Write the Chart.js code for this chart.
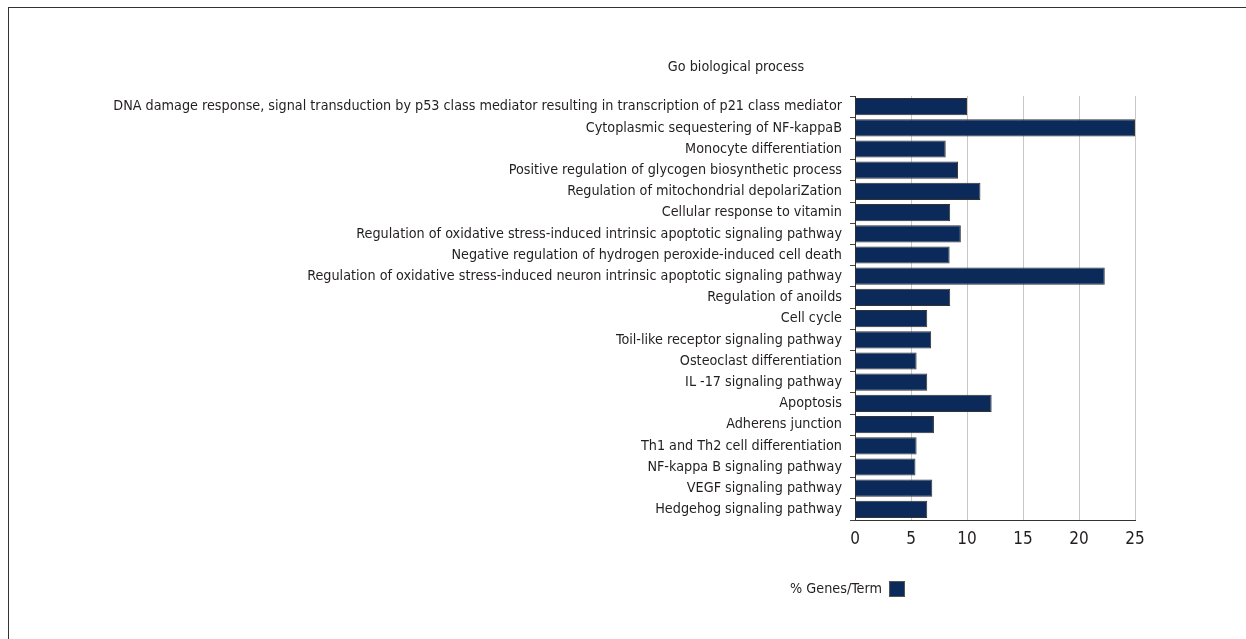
<!DOCTYPE html>
<html>
<head>
<meta charset="utf-8">
<script src="https://cdn.jsdelivr.net/npm/chart.js@4/dist/chart.umd.min.js"></script>
<style>
  html, body { margin: 0; padding: 0; background: #fff; }
  #wrap { position: relative; width: 1246px; height: 639px; overflow: hidden; }
  #frame { position: absolute; left: 8px; top: 7px; width: 1300px; height: 700px;
           border-left: 1px solid #333; border-top: 1px solid #333; box-sizing: border-box; }
  canvas { position: absolute; left: 0; top: 0; }
</style>
</head>
<body>
<div id="wrap">
  <div id="frame"></div>
  <canvas id="c" width="1246" height="639"></canvas>
</div>
<script>
const chartTitle = 'Go biological process';
const seriesLabel = '% Genes/Term';
const categories = [
  'DNA damage response, signal transduction by p53 class mediator resulting in transcription of p21 class mediator',
  'Cytoplasmic sequestering of NF-kappaB',
  'Monocyte differentiation',
  'Positive regulation of glycogen biosynthetic process',
  'Regulation of mitochondrial depolariZation',
  'Cellular response to vitamin',
  'Regulation of oxidative stress-induced intrinsic apoptotic signaling pathway',
  'Negative regulation of hydrogen peroxide-induced cell death',
  'Regulation of oxidative stress-induced neuron intrinsic apoptotic signaling pathway',
  'Regulation of anoilds',
  'Cell cycle',
  'Toil-like receptor signaling pathway',
  'Osteoclast differentiation',
  'IL -17 signaling pathway',
  'Apoptosis',
  'Adherens junction',
  'Th1 and Th2 cell differentiation',
  'NF-kappa B signaling pathway',
  'VEGF signaling pathway',
  'Hedgehog signaling pathway'
];
const genesPerTerm = [10.0, 25.0, 8.1, 9.2, 11.2, 8.5, 9.45, 8.45, 22.3, 8.5,
                      6.45, 6.8, 5.5, 6.45, 12.2, 7.05, 5.5, 5.4, 6.9, 6.45];
const xTicks = [0, 5, 10, 15, 20, 25];

const FAMILY = "'Liberation Sans Narrow', 'DejaVu Sans Condensed', 'Roboto Condensed', sans-serif";
// fit the font size so the longest label spans the same width as in the reference
const mctx = document.createElement('canvas').getContext('2d');
mctx.font = '16px ' + FAMILY;
const longest = categories.reduce((a, b) => mctx.measureText(b).width > mctx.measureText(a).width ? b : a);
let fs = 16 * 729 / mctx.measureText(longest).width;
fs = Math.max(11, Math.min(19, fs));

const TEXT = '#231f20';
const BAR = '#0b2a5a';

const overlay = {
  id: 'overlay',
  afterDraw(chart) {
    const ctx = chart.ctx;
    ctx.save();
    ctx.fillStyle = TEXT;
    ctx.font = fs + 'px ' + FAMILY;
    ctx.textBaseline = 'middle';
    ctx.textAlign = 'center';
    ctx.fillText(chartTitle, 736, 67);
    // legend: text then box on the right
    ctx.textAlign = 'right';
    ctx.fillText(chart.data.datasets[0].label, 882, 589);
    ctx.fillStyle = chart.data.datasets[0].backgroundColor;
    ctx.fillRect(889, 581, 16, 16);
    ctx.strokeStyle = '#555';
    ctx.lineWidth = 1;
    ctx.strokeRect(889.5, 581.5, 15, 15);
    ctx.restore();
  }
};

new Chart(document.getElementById('c'), {
  type: 'bar',
  data: {
    labels: categories,
    datasets: [{
      label: seriesLabel,
      data: genesPerTerm,
      backgroundColor: BAR,
      borderColor: '#333333',
      borderWidth: 1,
      barPercentage: 0.9,
      categoryPercentage: 0.9
    }]
  },
  options: {
    indexAxis: 'y',
    responsive: false,
    animation: false,
    layout: { padding: { left: 0, right: 111, top: 96, bottom: 89 } },
    plugins: { legend: { display: false }, title: { display: false }, tooltip: { enabled: false } },
    scales: {
      x: {
        min: 0, max: 25,
        afterBuildTicks(scale) { scale.ticks = xTicks.map(v => ({ value: v })); },
        afterFit(scale) { scale.height = 30; },
        grid: { color: '#c8c8c8', lineWidth: 1, drawTicks: false },
        border: { color: '#333', width: 1 },
        ticks: { color: TEXT, font: { family: FAMILY, size: 17 }, padding: 9 }
      },
      y: {
        afterFit(scale) { scale.width = 855; },
        grid: { offset: true, drawOnChartArea: false, drawTicks: true, tickLength: 5, color: '#444' },
        border: { color: '#333', width: 1 },
        ticks: { color: TEXT, autoSkip: false, font: { family: FAMILY, size: fs }, padding: 8 }
      }
    }
  },
  plugins: [overlay]
});
</script>
</body>
</html>
